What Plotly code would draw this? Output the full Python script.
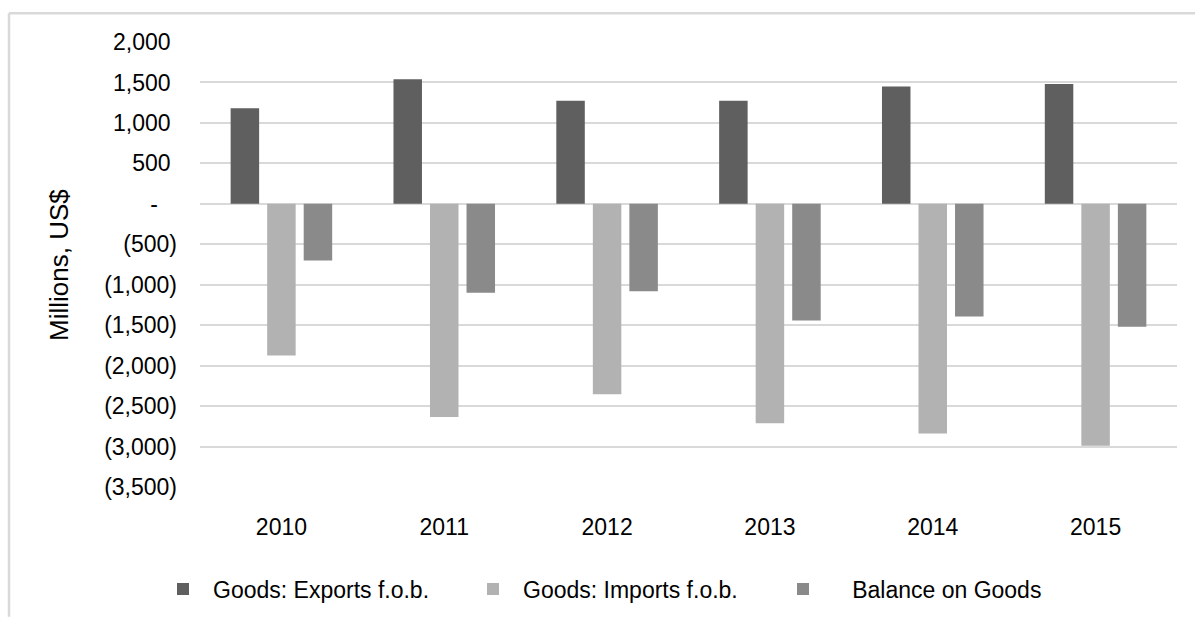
import plotly.graph_objects as go

years = ["2010", "2011", "2012", "2013", "2014", "2015"]
exports = [1180, 1540, 1275, 1275, 1450, 1480]
imports = [-1875, -2635, -2353, -2712, -2838, -2990]
balance = [-700, -1098, -1082, -1441, -1392, -1520]

series_names = ["Goods: Exports f.o.b.", "Goods: Imports f.o.b.", "\u00a0\u00a0\u00a0Balance on Goods"]
series_colors = ["#5f5f5f", "#b2b2b2", "#8a8a8a"]

tick_vals = [2000, 1500, 1000, 500, 0, -500, -1000, -1500, -2000, -2500, -3000, -3500]
tick_text = ["2,000\u00a0", "1,500\u00a0", "1,000\u00a0", "500\u00a0", "-\u00a0\u00a0\u00a0",
             "(500)", "(1,000)", "(1,500)", "(2,000)", "(2,500)", "(3,000)", "(3,500)"]

FONT = "Liberation Sans, Arial, sans-serif"

fig = go.Figure()
for name, vals, col in zip(series_names, [exports, imports, balance], series_colors):
    fig.add_trace(go.Bar(x=years, y=vals, name=name, marker=dict(color=col, line=dict(width=0))))

W, H = 1195, 622
L, R, T, B = 200, 18, 42, 131
pw = W - L - R
ph = H - T - B

def px(x):
    return (x - L) / pw

def py(y):
    return (H - B - y) / ph

fig.update_layout(
    width=W, height=H,
    margin=dict(l=L, r=R, t=T, b=B),
    paper_bgcolor="white", plot_bgcolor="white",
    font=dict(family=FONT, size=23, color="#000000"),
    barmode="group", bargap=0.327, bargroupgap=0.22,
    showlegend=True,
    legend=dict(orientation="h", x=px(153), xanchor="left", y=py(594), yanchor="middle",
                font=dict(size=23, color="#000000"), itemwidth=50, entrywidth=245,
                traceorder="normal"),
    xaxis=dict(showgrid=False, showline=False, ticks="", tickfont=dict(size=23),
               ticklabelstandoff=24),
    yaxis=dict(range=[-3500, 2000], tickvals=tick_vals, ticktext=tick_text,
               showgrid=True, gridcolor="#d9d9d9", gridwidth=1.5,
               zeroline=True, zerolinecolor="#d9d9d9", zerolinewidth=1.5,
               showline=False, ticks="", tickfont=dict(size=23), ticklabelstandoff=22),
    annotations=[dict(text="Millions, US$", xref="paper", yref="paper", x=px(59), y=py(267),
                      xanchor="center", yanchor="middle", textangle=-90, showarrow=False,
                      font=dict(size=26, color="#000000"))],
    shapes=[
        dict(type="line", xref="paper", yref="paper", x0=px(9), x1=px(1195), y0=py(13), y1=py(13),
             line=dict(color="#d9d9d9", width=2.5)),
        dict(type="line", xref="paper", yref="paper", x0=px(9), x1=px(9), y0=py(13), y1=py(622),
             line=dict(color="#d9d9d9", width=2.5)),
    ],
)

fig.write_html("out.html")
